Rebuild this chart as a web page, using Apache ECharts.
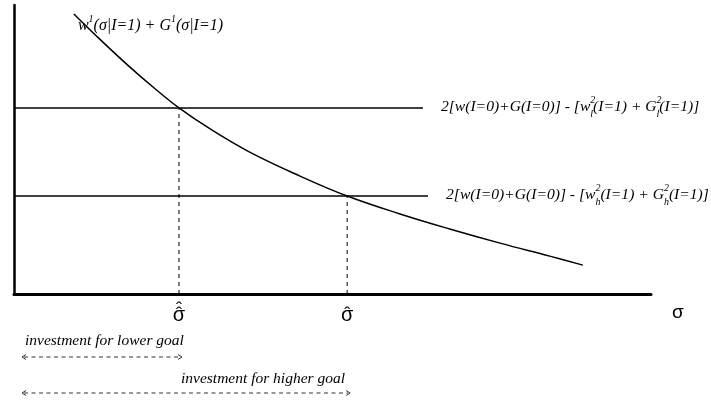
<!DOCTYPE html>
<html>
<head>
<meta charset="utf-8">
<script src="https://cdn.jsdelivr.net/npm/echarts@6/dist/echarts.min.js"></script>
<style>
  html, body { margin: 0; padding: 0; background: #fff; }
  #chart { width: 711px; height: 400px; }
</style>
</head>
<body>
<div id="chart"></div>
<script>
// Marginal return curve w¹(σ|I=1) + G¹(σ|I=1), sampled along σ
const curveSigma = [9.4, 13.5, 18.2, 22.1, 25.9, 30.8, 37.0, 44.9, 52.3, 60.6, 68.4, 76.3, 84.1, 89.3];
const curveValue = [96.9, 88.1, 78.5, 71.1, 64.4, 57.1, 49.1, 40.8, 33.9, 27.7, 22.5, 17.6, 13.1, 10.0];

// Threshold levels for the lower (l) and higher (h) goal
const thresholdLevels = [64.4, 33.9];
const thresholdEnds = [64.2, 65.0];
const thresholdSubs = ['l', 'h'];

// Cut-off investment levels where the curve crosses each threshold
const sigmaCuts = [25.9, 52.3];
const sigmaCutLabels = ['{h|ˆ}\n{h2|ˆ}\n{s|σ}', '{e|ˆ}\n{h2|ˆ}\n{s|σ}'];

const arrowTexts = ['investment for lower goal', 'investment for higher goal'];

const SERIF = '"Liberation Serif", "DejaVu Serif", serif';
const SANS = '"Liberation Sans", Arial, sans-serif';

const chart = echarts.init(document.getElementById('chart'), null, { renderer: 'canvas' });

function richSet(size) {
  return {
    t: { fontFamily: SERIF, fontStyle: 'italic', fontSize: size, color: '#000', lineHeight: 24 },
    sp: { fontFamily: SERIF, fontStyle: 'italic', fontSize: 10, color: '#000', verticalAlign: 'top', lineHeight: 10, width: 0 },
    sp1: { fontFamily: SERIF, fontStyle: 'italic', fontSize: 10, color: '#000', verticalAlign: 'top', lineHeight: 11 },
    sb: { fontFamily: SERIF, fontStyle: 'italic', fontSize: 10, color: '#000', verticalAlign: 'bottom', lineHeight: 9 }
  };
}

const series = [{
  type: 'line',
  data: curveSigma.map((s, i) => [s, curveValue[i]]),
  smooth: 0.4,
  showSymbol: false,
  symbol: 'none',
  silent: true,
  lineStyle: { color: '#000', width: 1.5 },
  z: 5,
  markPoint: {
    silent: true,
    symbol: 'circle',
    symbolSize: 0,
    data: [{
      coord: [curveSigma[0], curveValue[0]],
      label: {
        show: true,
        position: 'right',
        distance: 4,
        offset: [0, 12],
        formatter: '{t|w}{sp1|1}{t|(σ|I=1) + G}{sp1|1}{t|(σ|I=1)}',
        rich: richSet(16)
      }
    }]
  }
}];

thresholdLevels.forEach((lvl, i) => {
  const sub = thresholdSubs[i];
  series.push({
    type: 'line',
    data: [[0, lvl], [thresholdEnds[i], lvl]],
    symbol: 'none',
    silent: true,
    lineStyle: { color: '#000', width: 1.5 },
    endLabel: {
      show: true,
      distance: 18,
      offset: [0, -1],
      formatter: '{t|2[w(I=0)+G(I=0)] - [w}{sp|2}{sb|' + sub + '}{t|(I=1) + G}{sp|2}{sb|' + sub + '}{t|(I=1)]}',
      rich: richSet(15.6)
    }
  });
  // dashed drop line from the crossing point to the σ axis
  series.push({
    type: 'line',
    data: [[sigmaCuts[i], 0], [sigmaCuts[i], lvl]],
    symbol: 'none',
    silent: true,
    lineStyle: { color: '#000', width: 1, type: [4, 4] }
  });
});

chart.setOption({
  animation: false,
  backgroundColor: '#fff',
  grid: { left: 14, right: 60, top: 5, bottom: 106, containLabel: false },
  xAxis: {
    type: 'value',
    min: 0,
    max: 100,
    name: 'σ',
    nameLocation: 'end',
    nameGap: 21,
    nameTextStyle: { fontFamily: SANS, fontSize: 19, color: '#000', align: 'left', verticalAlign: 'top', padding: [9, 0, 0, 0] },
    axisLine: { show: true, onZero: false, lineStyle: { color: '#000', width: 3 } },
    axisTick: { show: false },
    splitLine: { show: false },
    axisLabel: {
      show: true,
      customValues: sigmaCuts,
      margin: 12,
      formatter: (v) => sigmaCutLabels[sigmaCuts.indexOf(v)] || '',
      rich: {
        e: { fontFamily: SANS, fontSize: 18, color: 'rgba(0,0,0,0)', lineHeight: 8.5, align: 'center' },
        h: { fontFamily: SANS, fontSize: 18, color: '#000', lineHeight: 8.5, align: 'center' },
        h2: { fontFamily: SANS, fontSize: 18, color: '#000', lineHeight: 0.5, align: 'center' },
        s: { fontFamily: SANS, fontSize: 20, color: '#000', lineHeight: 0.5, align: 'center' }
      }
    }
  },
  yAxis: {
    type: 'value',
    min: 0,
    max: 100,
    axisLine: { show: true, onZero: false, lineStyle: { color: '#000', width: 2.5 } },
    axisTick: { show: false },
    axisLabel: { show: false },
    splitLine: { show: false }
  },
  series: series
});

// Dashed double-headed arrows below the σ axis marking each investment range
function buildArrows() {
  const origin = chart.convertToPixel({ gridIndex: 0 }, [0, 0]);
  const x0 = origin[0] + 8;
  const rows = [357, 393];
  const textRows = [341, 379];
  const elements = [];
  sigmaCuts.forEach((s, i) => {
    const x1 = chart.convertToPixel({ gridIndex: 0 }, [s, 0])[0] + 3;
    const y = rows[i];
    const stroke = '#333';
    elements.push({
      type: 'line', silent: true,
      shape: { x1: x0 + 2, y1: y, x2: x1 - 2, y2: y },
      style: { stroke: stroke, lineWidth: 1, lineDash: [4, 3.5] }
    });
    elements.push({
      type: 'polyline', silent: true,
      shape: { points: [[x0 + 4, y - 2.5], [x0, y], [x0 + 4, y + 2.5]] },
      style: { stroke: stroke, lineWidth: 1, fill: null }
    });
    elements.push({
      type: 'polyline', silent: true,
      shape: { points: [[x1 - 4, y - 2.5], [x1, y], [x1 - 4, y + 2.5]] },
      style: { stroke: stroke, lineWidth: 1, fill: null }
    });
    const tx = i === 0 ? x0 + 3 : chart.convertToPixel({ gridIndex: 0 }, [sigmaCuts[0], 0])[0] + 2;
    elements.push({
      type: 'text', silent: true,
      x: tx, y: textRows[i],
      style: {
        text: arrowTexts[i],
        font: 'italic 15.5px ' + SERIF,
        fill: '#000',
        align: 'left',
        verticalAlign: 'middle'
      }
    });
  });
  chart.setOption({ graphic: { elements: elements } });
}
buildArrows();
</script>
</body>
</html>
